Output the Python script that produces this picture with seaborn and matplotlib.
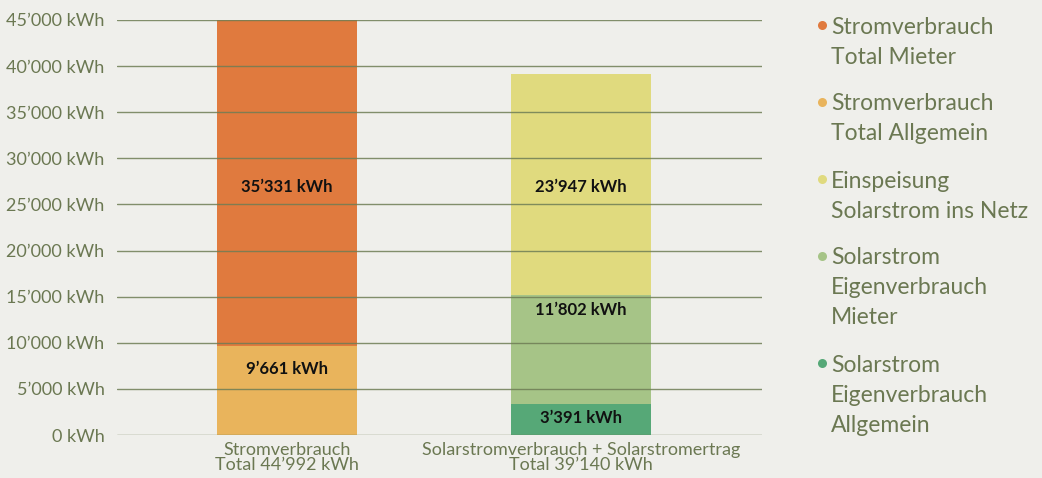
import matplotlib
matplotlib.use("Agg")
import matplotlib.pyplot as plt
from matplotlib.lines import Line2D
from matplotlib.ticker import FuncFormatter
import seaborn as sns
import pandas as pd

# =========================
# Data
# =========================
categories = ["Stromverbrauch\nTotal 44’992 kWh",
              "Solarstromverbrauch + Solarstromertrag\nTotal 39’140 kWh"]
series = ["Stromverbrauch\nTotal Mieter",
          "Stromverbrauch\nTotal Allgemein",
          "Einspeisung\nSolarstrom ins Netz",
          "Solarstrom\nEigenverbrauch\nMieter",
          "Solarstrom\nEigenverbrauch\nAllgemein"]
series_cat = [0, 0, 1, 1, 1]
values = [35331, 9661, 23947, 11802, 3391]
bottoms = [9661, 0, 15193, 3391, 0]
y_ticks = [0, 5000, 10000, 15000, 20000, 25000, 30000, 35000, 40000, 45000]

colors = ["#E07A3E", "#E9B45C", "#E0DA7E", "#A6C487", "#56A877"]
bg = "#EFEFEB"
txt = "#6B7852"

df = pd.DataFrame({
    "series": series,
    "category": [categories[i] for i in series_cat],
    "value": values,
    "bottom": bottoms,
})

sns.set_style("white")
plt.rcParams["font.family"] = ["Lato", "DejaVu Sans"]

W, H = 1042, 478
fig = plt.figure(figsize=(W / 100, H / 100), dpi=100, facecolor=bg)
ax = fig.add_axes([117 / W, 1 - 435 / H, (762 - 117) / W, (435 - 20) / H])
ax.set_facecolor(bg)

# =========================
# Stacked bars
# =========================
for i, row in df.iterrows():
    sub = df.iloc[[i]]
    sns.barplot(data=sub, x="category", y="value", order=categories,
                bottom=row["bottom"], color=colors[i], width=0.476,
                linewidth=0, saturation=1, errorbar=None, ax=ax)

# value labels
label_y = [26900, 7200, 26900, 13550, 1850]
for i, row in df.iterrows():
    ax.text(series_cat[i], label_y[i], f"{row['value']:,} kWh".replace(",", "’"),
            ha="center", va="center", fontsize=12, fontweight="bold", color="#111111")

# =========================
# Axes styling
# =========================
ax.set_ylim(0, 45000)
ax.set_xlim(-0.578, 1.616)
ax.set_yticks(y_ticks)
ax.yaxis.set_major_formatter(FuncFormatter(lambda v, p: f"{int(v):,} kWh".replace(",", "’")))
ax.grid(axis="y", color="#6E7D55", linewidth=1.0, alpha=0.85)
ax.set_axisbelow(False)
ax.tick_params(axis="y", length=0, pad=9, labelsize=13, labelcolor=txt)
ax.tick_params(axis="x", length=0, pad=5, labelsize=13, labelcolor=txt)
ax.set_xlabel("")
ax.set_ylabel("")
for s in ax.spines.values():
    s.set_visible(False)
for lbl in ax.get_xticklabels():
    lbl.set_linespacing(0.95)

# =========================
# Legend (dot + multi-line label)
# =========================
line_h, gap = 30, 17
y = 27
for c, lab in zip(colors, series):
    lines = lab.split("\n")
    fig.add_artist(Line2D([822 / W], [1 - (y - 2) / H], marker="o", markersize=6.5,
                          markerfacecolor=c, markeredgewidth=0, linestyle="",
                          transform=fig.transFigure))
    for k, ln in enumerate(lines):
        fig.text(831 / W, 1 - (y + k * line_h) / H, ln, ha="left", va="center",
                 fontsize=16.5, color=txt)
    y += len(lines) * line_h + gap

fig.savefig("out.png", dpi=100, facecolor=bg)
